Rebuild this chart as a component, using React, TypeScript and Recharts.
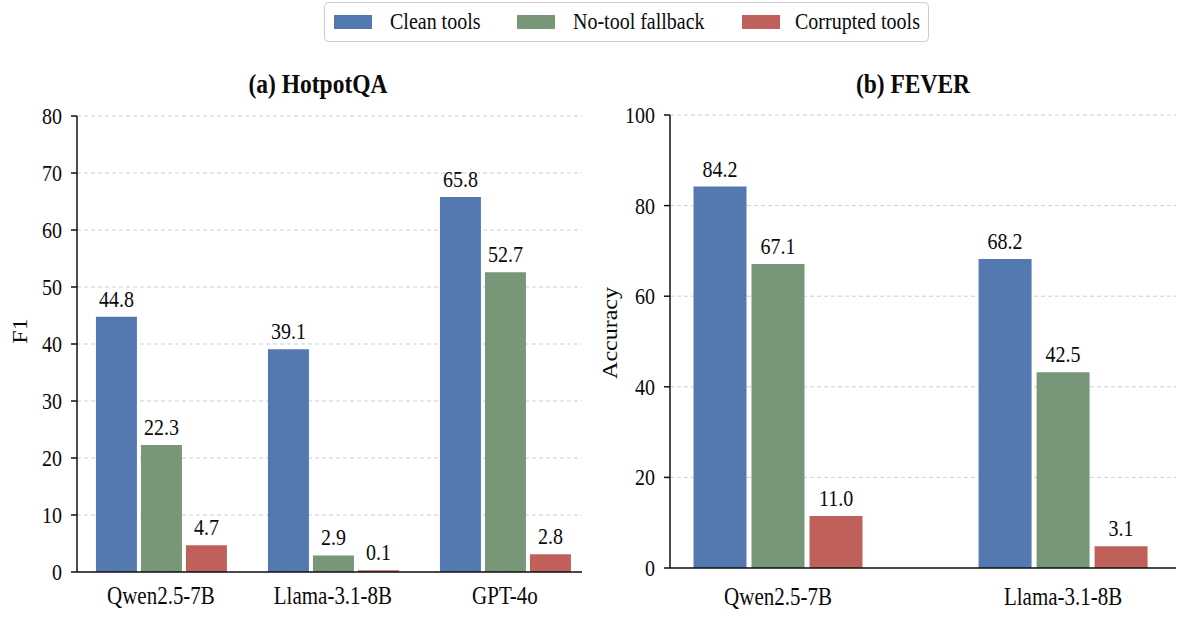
import React from 'react';
import { BarChart, Bar, XAxis, YAxis, CartesianGrid, LabelList } from 'recharts';

const SY = 1.2;
const FONT = '"Liberation Serif", "DejaVu Serif", serif';

const seriesNames = ['Clean tools', 'No-tool fallback', 'Corrupted tools'];
const seriesColors = ['#5479b0', '#779778', '#c0605b'];

// (a) HotpotQA
const hotpotModels = ['Qwen2.5-7B', 'Llama-3.1-8B', 'GPT-4o'];
const hotpotClean = [44.8, 39.1, 65.8];
const hotpotFallback = [22.3, 2.9, 52.6];
const hotpotCorrupted = [4.7, 0.3, 3.1];
const hotpotCleanLabels = ['44.8', '39.1', '65.8'];
const hotpotFallbackLabels = ['22.3', '2.9', '52.7'];
const hotpotCorruptedLabels = ['4.7', '0.1', '2.8'];
const hotpotTicks = [0, 10, 20, 30, 40, 50, 60, 70, 80];

// (b) FEVER
const feverModels = ['Qwen2.5-7B', 'Llama-3.1-8B'];
const feverClean = [84.2, 68.2];
const feverFallback = [67.1, 43.2];
const feverCorrupted = [11.5, 4.8];
const feverCleanLabels = ['84.2', '68.2'];
const feverFallbackLabels = ['67.1', '42.5'];
const feverCorruptedLabels = ['11.0', '3.1'];
const feverTicks = [0, 20, 40, 60, 80, 100];

const hotpotData = hotpotModels.map((m, i) => ({
  idx: i,
  name: m,
  clean: hotpotClean[i],
  fallback: hotpotFallback[i],
  corrupted: hotpotCorrupted[i],
  cleanLabel: hotpotCleanLabels[i],
  fallbackLabel: hotpotFallbackLabels[i],
  corruptedLabel: hotpotCorruptedLabels[i],
}));

const feverData = feverModels.map((m, i) => ({
  idx: i,
  name: m,
  clean: feverClean[i],
  fallback: feverFallback[i],
  corrupted: feverCorrupted[i],
  cleanLabel: feverCleanLabels[i],
  fallbackLabel: feverFallbackLabels[i],
  corruptedLabel: feverCorruptedLabels[i],
}));

type STProps = {
  x: number;
  y: number;
  anchor?: 'start' | 'middle' | 'end';
  size?: number;
  weight?: string | number;
  rotate?: number;
  children?: React.ReactNode;
};

function StretchText({ x, y, anchor = 'middle', size = 20, weight = 'normal', rotate = 0, children }: STProps) {
  return (
    <g transform={`translate(${x},${y}) scale(1,${SY})${rotate ? ` rotate(${rotate})` : ''}`}>
      <text x={0} y={0} textAnchor={anchor} fontFamily={FONT} fontSize={size} fontWeight={weight} fill="#0a0a0a">
        {children}
      </text>
    </g>
  );
}

const YTick = (props: any) => (
  <StretchText x={props.x} y={props.y + 8} anchor="end">
    {props.payload.value}
  </StretchText>
);

const makeXTick = (names: string[], offset: number) => (props: any) => (
  <StretchText x={props.x} y={props.y + offset} size={21}>
    {names[props.payload.value]}
  </StretchText>
);

const renderLabel = (p: any) => (
  <StretchText x={Number(p.x) + Number(p.width) / 2} y={Number(p.y) - 10}>
    {p.value}
  </StretchText>
);

const axisLineStyle = { stroke: '#111', strokeWidth: 1.5 };

function Panel({
  data,
  names,
  width,
  margin,
  domainX,
  xTicks,
  yDomain,
  yTicks,
  barSize,
  barGap,
  xOffset,
}: any) {
  return (
    <BarChart width={width} height={617} data={data} margin={margin} barSize={barSize} barGap={barGap}>
      <CartesianGrid vertical={false} stroke="#cfcfcf" strokeDasharray="4 3" />
      <XAxis
        dataKey="idx"
        type="number"
        domain={domainX}
        ticks={xTicks}
        allowDataOverflow
        interval={0}
        height={30}
        tickSize={0}
        tickMargin={0}
        tickLine={false}
        axisLine={axisLineStyle}
        tick={makeXTick(names, xOffset)}
      />
      <YAxis
        type="number"
        domain={yDomain}
        ticks={yTicks}
        interval={0}
        width={60}
        tickSize={6}
        tickMargin={9}
        axisLine={axisLineStyle}
        tickLine={axisLineStyle}
        tick={YTick}
      />
      <Bar dataKey="clean" fill={seriesColors[0]} isAnimationActive={false}>
        <LabelList dataKey="cleanLabel" content={renderLabel} />
      </Bar>
      <Bar dataKey="fallback" fill={seriesColors[1]} isAnimationActive={false}>
        <LabelList dataKey="fallbackLabel" content={renderLabel} />
      </Bar>
      <Bar dataKey="corrupted" fill={seriesColors[2]} isAnimationActive={false}>
        <LabelList dataKey="corruptedLabel" content={renderLabel} />
      </Bar>
    </BarChart>
  );
}

const legendSwatchX = [334, 517, 742];
const legendTextX = [390, 573, 795];

export default function App() {
  return (
    <div style={{ position: 'absolute', left: 0, top: 0, width: 1177, height: 617, background: '#fff' }}>
      <div style={{ position: 'absolute', left: 0, top: 0 }}>
        <Panel
          data={hotpotData}
          names={hotpotModels}
          width={600}
          margin={{ top: 116, right: 18, bottom: 15, left: 17 }}
          domainX={[-0.488, 2.448]}
          xTicks={[0, 1, 2]}
          yDomain={[0, 80]}
          yTicks={hotpotTicks}
          barSize={41}
          barGap={4}
          xOffset={32}
        />
      </div>
      <div style={{ position: 'absolute', left: 590, top: 0 }}>
        <Panel
          data={feverData}
          names={feverModels}
          width={587}
          margin={{ top: 115, right: 1, bottom: 19, left: 20 }}
          domainX={[-0.379, 1.396]}
          xTicks={[0, 1]}
          yDomain={[0, 100]}
          yTicks={feverTicks}
          barSize={53}
          barGap={5}
          xOffset={37}
        />
      </div>
      <svg
        width={1177}
        height={617}
        style={{ position: 'absolute', left: 0, top: 0, pointerEvents: 'none' }}
      >
        <rect x={324.5} y={2.5} width={604} height={39} rx={4} ry={4} fill="#fff" stroke="#cccccc" strokeWidth={1} />
        {seriesNames.map((n, i) => (
          <g key={n}>
            <rect x={legendSwatchX[i]} y={15} width={38} height={14} fill={seriesColors[i]} />
            <StretchText x={legendTextX[i]} y={29} anchor="start">
              {n}
            </StretchText>
          </g>
        ))}
        <StretchText x={318} y={93} size={23.5} weight="bold">
          (a) HotpotQA
        </StretchText>
        <StretchText x={913} y={93} size={23.5} weight="bold">
          (b) FEVER
        </StretchText>
        <StretchText x={27} y={331} rotate={-90}>
          F1
        </StretchText>
        <StretchText x={617} y={333} rotate={-90}>
          Accuracy
        </StretchText>
      </svg>
    </div>
  );
}
